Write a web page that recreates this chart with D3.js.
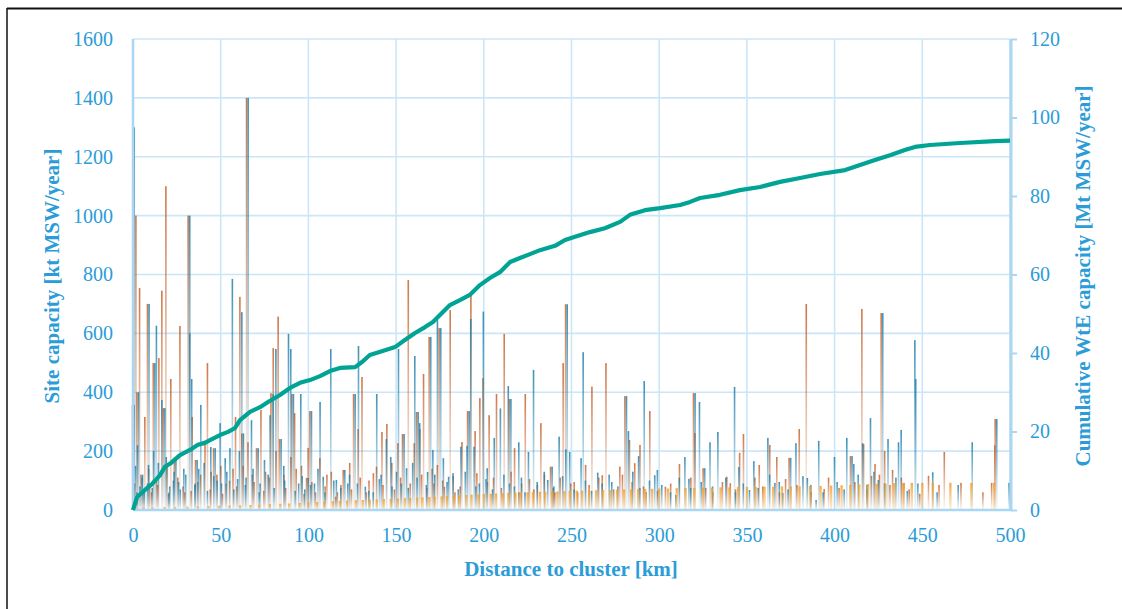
<!DOCTYPE html>
<html>
<head>
<meta charset="utf-8">
<script src="https://cdn.jsdelivr.net/npm/d3@7"></script>
<style>
  body { margin: 0; background: #fff; }
  text { font-family: "Liberation Serif", "Times New Roman", serif; }
</style>
</head>
<body>
<div id="chart"></div>
<script>

// site capacities [km, kt MSW/year]
var orangeSites = [
  [0.2,357],[2.1,1000],[2.7,400],[4.2,754],[5,120],[7.2,316],[8.7,700],[10,90],[12,499],[13.8,110],
  [15.2,516],[16.9,745],[17.7,346],[19.2,1100],[22,445],[24,177],[27.2,625],[30,60],[31.9,1000],[34.2,316],
  [36.1,170],[39,120],[41.5,230],[42.9,499],[45,130],[46.4,210],[50.5,150],[53.5,90],[57.5,140],[58.9,316],
  [61.4,724],[62.5,260],[65.2,1400],[66,230],[68.5,120],[70.9,210],[73.4,340],[76,130],[79.1,397],[80.4,550],
  [82,200],[83.2,657],[84,241],[86.5,120],[90.5,180],[91,394],[92.6,329],[96.5,150],[99.4,109],[100.3,211],
  [101.3,336],[104.5,60],[107,176],[110,80],[113.5,130],[117,60],[120.3,136],[124,160],[126.2,394],[128.8,275],
  [131,452],[135,100],[139.3,147],[142.4,265],[145.2,292],[148,160],[151.5,227],[154.1,258],[157.4,781],[160.8,227],
  [162.1,333],[164,275],[166.1,462],[169.3,588],[172,90],[174,153],[175,618],[178,79],[181.3,679],[184,60],
  [188,231],[191.2,336],[193.1,730],[195.5,268],[198.2,380],[200,448],[203.5,322],[207.7,394],[212.1,598],[215,377],
  [218,210],[222,90],[224.1,394],[229,70],[233,295],[238.5,147],[241,60],[245.7,499],[247.1,699],[250,90],
  [258.5,153],[262.1,419],[268,118],[270.1,499],[278,147],[280.9,387],[283.5,238],[286.5,159],[289.5,221],[293,61],
  [295.1,336],[304,79],[312,156],[320,397],[320.8,261],[325.5,142],[339,113],[341,91],[346.3,194],[348.5,258],
  [357.5,153],[363.5,221],[367.5,180],[374.5,177],[380.3,275],[384.3,700],[394.5,71],[409.5,183],[416,683],[417,224],
  [421.5,116],[423.5,156],[427,669],[429,200],[433.5,136],[440,92],[454,116],[463,197],[472.5,92],[490,92],
  [491.8,220],[492,309],
  // smaller sites
  [1.4,90],[3.1,45],[6.4,70],[9.4,140],[11,60],[14.5,85],[20,150],[21,60],[26,110],[29,80],
  [33.6,65],[37.4,95],[44.5,70],[48.3,120],[51.5,55],[55.5,100],[59.6,80],[63.2,150],[69.5,95],[75,65],
  [78.2,110],[87.5,75],[93.5,140],[98,55],[102.4,95],[111,120],[116,45],[119,85],[125,70],[130,110],
  [133.5,60],[137.5,125],[143,85],[149.5,70],[153,110],[158.5,90],[165,120],[168,75],[171,140],[177,100],
  [183,115],[187,80],[196.5,125],[202.5,95],[206,110],[210.5,75],[216,130],[220.5,60],[226.5,105],[231,85],
  [235,120],[240,75],[244,110],[252,95],[254,60],[260.5,85],[266,110],[274.5,70],[279.5,120],[285,95],
  [291.5,80],[299.5,65],[307,90],[318.5,110],[327,75],[331,60],[336.5,95],[344,70],[355,110],[359.5,80],
  [369,60],[372.5,105],[379,85],[387,60],[397,110],[403,75],[412,95],[419,70],[426,120],[432,85],
  [438.5,110],[443,70],[449,55],[460,85],[485,60]
];

var blueSites = [
  [0.2,1300],[0.2,357],[1,150],[2.1,220],[2.7,400],[3.5,80],[5,120],[6,60],[8.4,153],[8.7,700],
  [11.3,200],[12,499],[12.9,626],[16,374],[17.7,346],[18.5,180],[20.5,80],[23,130],[24,177],[25.5,95],
  [28.5,140],[31.9,1000],[31.9,600],[33,445],[35,90],[36.1,170],[38.2,357],[40.1,160],[43.9,214],[46.4,210],
  [47.5,100],[49.2,295],[52.1,176],[54.8,210],[56.2,785],[60.2,200],[61.6,672],[62.5,260],[64,110],[65.2,1400],
  [67.1,305],[70.9,210],[72,90],[74.5,170],[77.7,322],[79.4,394],[81,547],[84,241],[85.5,150],[88.2,598],
  [89.5,547],[91,394],[94,90],[95.2,394],[97.5,70],[99.4,109],[101.3,336],[103,90],[106.2,367],[108,113],
  [112.3,547],[115.5,102],[120.3,136],[122,90],[126.2,394],[128.1,557],[132,79],[136.5,60],[138.5,394],[141,120],
  [144,241],[146.5,180],[150.9,547],[152.5,90],[154.1,258],[155.5,142],[159,160],[160.2,523],[162.1,333],[163,295],
  [167.5,129],[169.3,588],[170.5,204],[173.1,645],[175,618],[176.5,176],[179.5,113],[182,125],[186.5,215],[190,218],
  [191.2,336],[192.1,649],[194,215],[197,90],[199.3,674],[201.5,142],[205.5,245],[209,345],[213.5,421],[215,377],
  [217,80],[219.5,230],[225,197],[227.9,476],[236,102],[238.5,147],[242.5,249],[246.3,206],[247.1,699],[248.5,197],
  [255,176],[256.2,536],[264.5,127],[272.5,95],[280.9,387],[282,268],[287.8,183],[291,438],[297,118],[298.5,136],
  [309,51],[314.2,180],[316.5,106],[320,397],[322.5,367],[325.5,142],[328.5,230],[333,265],[342.5,418],[345,146],
  [351,68],[353.5,166],[361.5,245],[365.5,92],[370,58],[374.5,177],[377.5,227],[384,109],[389,34],[390.5,235],
  [399.5,180],[406.5,245],[409.5,183],[410.5,156],[415.5,227],[420,312],[424.5,102],[427,669],[430,241],[436,230],
  [437.5,272],[445.3,577],[445.8,445],[455.5,128],[478,230],[492,309],[499,92],
  // smaller sites
  [1.8,60],[4.7,110],[7.8,90],[10.5,75],[14,160],[19.8,55],[22.6,100],[26.5,70],[29.6,120],[34.8,85],
  [37,140],[42,65],[45.6,115],[50,90],[53,130],[57,70],[59.2,105],[63.6,85],[68,140],[71.5,60],
  [76.6,120],[80,75],[86,100],[92,65],[96,115],[100.8,85],[105,140],[109,60],[114,100],[118,75],
  [123,120],[127.5,90],[134,65],[140,105],[147.2,80],[149.8,130],[156.5,75],[161.5,110],[166.8,85],[171.6,120],
  [178.6,95],[185,70],[189,130],[195,80],[200.8,105],[204.5,70],[211,120],[214.2,90],[221,110],[223,60],
  [230,95],[234,130],[239.5,80],[244.5,115],[251,70],[257.5,100],[261,65],[267,90],[271,120],[276,80],
  [284.5,130],[288.5,75],[294,100],[301,85],[306,60],[311,110],[317.5,75],[323.5,95],[330,80],[337.5,110],
  [343,60],[347.5,90],[356,75],[362.5,120],[368,95],[373,70],[381.5,115],[386,85],[393,60],[401,95],
  [405,70],[413,120],[418,85],[422,130],[428,90],[434.5,110],[441,65],[447,90],[458,60],[470,85]
];

// light orange low series [km, kt MSW/year]
var baseSites = [
  [2,8],[6,9],[11,9],[18,10],[24,10],[31,11],[37,12],[43,13],[49,14],[55,15],
  [61,16],[67,17],[72,18],[78,20],[84,21],[89,22],[95,24],[100,26],[105,27],[109,28],
  [114,30],[118,31],[122,32],[127,33],[131,34],[135,35],[139,36],[143,37],[147,38],[151,39],
  [155,40],[158,41],[162,42],[165,43],[169,44],[172,45],[176,46],[179,47],[183,48],[186,50],
  [190,51],[193,52],[197,53],[200,54],[204,55],[207,56],[211,57],[214,58],[218,59],[221,60],
  [225,60],[228,61],[232,62],[235,62],[239,63],[242,63],[246,64],[249,65],[253,66],[256,66],
  [260,67],[264,67],[268,68],[272,68],[276,69],[280,70],[284,70],[288,71],[292,72],[296,72],
  [300,73],[305,73],[310,74],[315,75],[320,75],[325,76],[330,76],[335,77],[340,77],[345,78],
  [350,78],[355,78],[360,79],[365,79],[370,80],[375,80],[380,80],[386,81],[392,82],[398,83],
  [404,84],[409,85],[414,87],[419,88],[424,89],[429,90],[434,91],[439,91],[444,92],[450,92],
  [456,92],[466,92],[478,92],[491,93]
];

// cumulative WtE capacity [km, Mt MSW/year]
var cumKm  = [0,2.3,6.8,10.8,15.4,18.2,21.7,26.8,32.5,37,41,43.9,49.6,54.2,58.2,61,66.7,72.4,77,83.8,
              89.5,95.2,100.9,106.6,112.3,118,126.6,130.6,135,141,149.4,155,160.8,166.5,171,175,180.7,186.4,192,197.8,
              203.5,209.2,215,220.6,226.3,232,240.6,246.3,252,260.5,269,277.7,283.3,291.9,300.5,311.9,317.6,323.3,334.7,346,
              357.5,368.9,380.3,391.7,406,414.5,423,431.6,440,445.8,454.4,471.5,491.4,500];
var cumCap = [0,3.3,5.1,6.6,8.9,11,12,14,15.3,16.6,17.1,17.8,19.1,19.9,20.9,22.9,25,26.2,27.5,29.3,
              31.1,32.4,33.1,34.1,35.4,36.2,36.4,37.7,39.5,40.3,41.5,43.3,45.1,46.6,47.9,49.7,52.2,53.5,54.8,57.3,
              59.1,60.6,63.2,64.2,65.2,66.2,67.3,68.8,69.6,70.8,71.8,73.4,75.2,76.4,76.9,77.7,78.5,79.5,80.3,81.5,
              82.3,83.6,84.6,85.6,86.6,87.9,89.2,90.4,91.7,92.5,93,93.5,94,94.1];

var xTicks  = [0,50,100,150,200,250,300,350,400,450,500];
var yTicks  = [0,200,400,600,800,1000,1200,1400,1600];
var y2Ticks = [0,20,40,60,80,100,120];

var margin = {top: 39, right: 112, bottom: 99, left: 133},
    width = 1122 - margin.left - margin.right,
    height = 609 - margin.top - margin.bottom;

var blueText = "#2b9cd8",
    gridCol = "#cbe6f7",
    axisCol = "#a9d6f2";

var x = d3.scaleLinear().domain([0, 500]).range([0, width]);
var y = d3.scaleLinear().domain([0, 1600]).range([height, 0]);
var y2 = d3.scaleLinear().domain([0, 120]).range([height, 0]);

var svg0 = d3.select("#chart").append("svg")
    .attr("width", 1122)
    .attr("height", 609);

// page frame
svg0.append("line").attr("x1", 7).attr("x2", 1122).attr("y1", 8.5).attr("y2", 8.5)
    .attr("stroke", "#111").attr("stroke-width", 2);
svg0.append("line").attr("x1", 7).attr("x2", 7).attr("y1", 8).attr("y2", 609)
    .attr("stroke", "#111").attr("stroke-width", 1.5);

var defs = svg0.append("defs");
function grad(id, col, top, bot) {
  var g = defs.append("linearGradient").attr("id", id)
      .attr("x1", 0).attr("y1", 0).attr("x2", 0).attr("y2", 1);
  g.append("stop").attr("offset", "0%").attr("stop-color", col).attr("stop-opacity", top);
  g.append("stop").attr("offset", "100%").attr("stop-color", col).attr("stop-opacity", bot);
}
grad("gradO", "#c4612a", 0.85, 0.03);
grad("gradB", "#1f7fab", 0.85, 0.03);
grad("gradBase", "#f29f2c", 0.85, 0.15);

var svg = svg0.append("g")
    .attr("transform", "translate(" + margin.left + "," + margin.top + ")");

// grid
svg.append("g").selectAll("line")
    .data(yTicks.slice(1))
  .enter().append("line")
    .attr("x1", 0).attr("x2", width)
    .attr("y1", function(d) { return y(d); }).attr("y2", function(d) { return y(d); })
    .attr("stroke", gridCol).attr("stroke-width", 1.6);

svg.append("g").selectAll("line")
    .data(xTicks.slice(1))
  .enter().append("line")
    .attr("x1", function(d) { return x(d); }).attr("x2", function(d) { return x(d); })
    .attr("y1", 0).attr("y2", height)
    .attr("stroke", gridCol).attr("stroke-width", 1.6);

var bw = 1.6;

svg.append("g").selectAll("rect")
    .data(orangeSites)
  .enter().append("rect")
    .attr("x", function(d) { return x(d[0]) - bw; })
    .attr("width", bw)
    .attr("y", function(d) { return y(d[1]); })
    .attr("height", function(d) { return height - y(d[1]); })
    .attr("fill", "url(#gradO)");

svg.append("g").selectAll("rect")
    .data(blueSites)
  .enter().append("rect")
    .attr("x", function(d) { return x(d[0]); })
    .attr("width", bw)
    .attr("y", function(d) { return y(d[1]); })
    .attr("height", function(d) { return height - y(d[1]); })
    .attr("fill", "url(#gradB)");

svg.append("g").selectAll("rect")
    .data(baseSites)
  .enter().append("rect")
    .attr("x", function(d) { return x(d[0]) - 1.2; })
    .attr("width", 2.4)
    .attr("y", function(d) { return y(d[1]); })
    .attr("height", function(d) { return height - y(d[1]); })
    .attr("fill", "url(#gradBase)");

// axis lines
svg.append("line").attr("x1", 0).attr("x2", 0).attr("y1", 0).attr("y2", height)
    .attr("stroke", axisCol).attr("stroke-width", 2.5);
svg.append("line").attr("x1", 0).attr("x2", width + 2).attr("y1", height).attr("y2", height)
    .attr("stroke", axisCol).attr("stroke-width", 2.5);
svg.append("line").attr("x1", width + 1).attr("x2", width + 1).attr("y1", 0).attr("y2", height + 1)
    .attr("stroke", axisCol).attr("stroke-width", 3);

// cumulative line
var cum = cumKm.map(function(k, i) { return [k, cumCap[i]]; });
svg.append("path")
    .datum(cum)
    .attr("fill", "none")
    .attr("stroke", "#00a394")
    .attr("stroke-width", 4.2)
    .attr("stroke-linejoin", "round")
    .attr("d", d3.line()
        .x(function(d) { return x(d[0]); })
        .y(function(d) { return y2(d[1]); }));

var fmt = d3.format("d");
var xAxis = d3.axisBottom(x).tickValues(xTicks).tickFormat(fmt).tickSize(0).tickPadding(18);
var yAxis = d3.axisLeft(y).tickValues(yTicks).tickFormat(fmt).tickSize(0).tickPadding(20);
var y2Axis = d3.axisRight(y2).tickValues(y2Ticks).tickFormat(fmt).tickSize(6).tickPadding(13);

function styleAxis(g) {
  g.select(".domain").remove();
  g.selectAll("text").attr("fill", blueText).style("font-size", "20px")
      .style("font-family", "'Liberation Serif', serif");
  g.selectAll("line").attr("stroke", axisCol).attr("stroke-width", 2);
}

svg.append("g").attr("transform", "translate(0," + height + ")").call(xAxis).call(styleAxis);
svg.append("g").call(yAxis).call(styleAxis);
svg.append("g").attr("transform", "translate(" + (width + 1) + ",0)").call(y2Axis).call(styleAxis);

// titles
svg0.append("text")
    .attr("x", 571).attr("y", 576)
    .attr("text-anchor", "middle")
    .attr("fill", blueText)
    .style("font-size", "21px").style("font-weight", "bold")
    .text("Distance to cluster [km]");

svg0.append("text")
    .attr("transform", "translate(59,276) rotate(-90)")
    .attr("text-anchor", "middle")
    .attr("fill", blueText)
    .style("font-size", "21px").style("font-weight", "bold")
    .text("Site capacity [kt MSW/year]");

svg0.append("text")
    .attr("transform", "translate(1090,276) rotate(-90)")
    .attr("text-anchor", "middle")
    .attr("fill", blueText)
    .style("font-size", "21px").style("font-weight", "bold")
    .text("Cumulative WtE capacity [Mt MSW/year]");

</script>
</body>
</html>
